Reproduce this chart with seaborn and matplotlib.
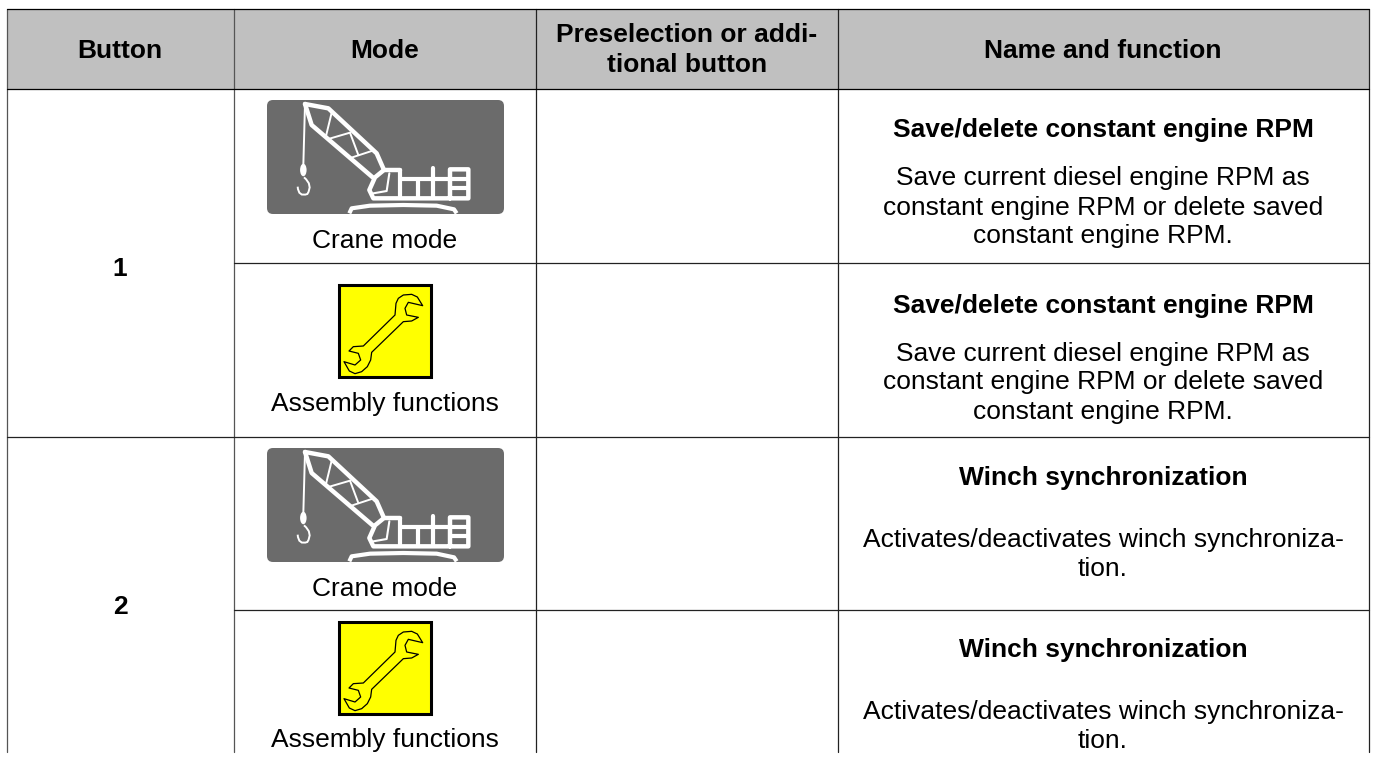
import matplotlib
matplotlib.use("Agg")
import matplotlib.pyplot as plt
import seaborn as sns
from matplotlib.patches import FancyBboxPatch, Polygon, Rectangle, Ellipse, PathPatch
from matplotlib.path import Path

headers = ["Button", "Mode", "Preselection or addi-\ntional button", "Name and function"]
header_x = [120, 385, 687, 1103]
header_y = [49, 49, 45, 49]
button_labels = ["1", "2"]
button_y = [267, 605]
modes = ["Crane mode", "Assembly functions", "Crane mode", "Assembly functions"]
mode_y = [238, 401, 586, 738]
titles = ["Save/delete constant engine RPM", "Save/delete constant engine RPM",
          "Winch synchronization", "Winch synchronization"]
title_y = [128, 303, 476, 648]
bodies = [["Save current diesel engine RPM as", "constant engine RPM or delete saved", "constant engine RPM."],
          ["Save current diesel engine RPM as", "constant engine RPM or delete saved", "constant engine RPM."],
          ["Activates/deactivates winch synchroniza-", "tion."],
          ["Activates/deactivates winch synchroniza-", "tion."]]
body_y = [[176, 205, 234], [351, 380, 409], [538, 567], [710, 739]]

col_x = [7, 234, 536, 838, 1369]
row_y = [9, 89, 263, 437, 610]
table_bottom = 752

sns.set_theme(style="white")
plt.rcParams["font.family"] = ["Liberation Sans", "DejaVu Sans"]

fig, ax = plt.subplots(figsize=(13.74, 7.58), dpi=100)
ax.set_position([0, 0, 1, 1])
ax.set_xlim(0, 1374)
ax.set_ylim(758, 0)
ax.axis("off")

FS = 19.0
LINE = "#222222"
ax.add_patch(Rectangle((col_x[0], row_y[0]), col_x[-1] - col_x[0], row_y[1] - row_y[0], fc="#c0c0c0", ec="none", zorder=0))
for x in col_x:
    ax.plot([x, x], [row_y[0], table_bottom], color="#555555" if x in (7, 234) else LINE, lw=0.9, zorder=1)
ax.plot([col_x[0], col_x[-1]], [row_y[0]] * 2, color="black", lw=0.9)
ax.plot([col_x[0], col_x[-1]], [row_y[1]] * 2, color="black", lw=0.9)
ax.plot([col_x[1], col_x[-1]], [row_y[2]] * 2, color=LINE, lw=0.9)
ax.plot([col_x[0], col_x[-1]], [row_y[3]] * 2, color=LINE, lw=0.9)
ax.plot([col_x[1], col_x[-1]], [row_y[4]] * 2, color=LINE, lw=0.9)


def crane_icon(dy):
    def T(pts):
        return [(p[0] / 3 + 230, p[1] / 3 + 90 + dy) for p in pts]
    ax.add_patch(FancyBboxPatch((270, 103 + dy), 231, 108, boxstyle="round,pad=3,rounding_size=6",
                                fc="#6b6b6b", ec="none", zorder=2))
    strokes = [
        ([(225, 42), (295, 55), (440, 190), (462, 240)], 3.2),
        ([(225, 42), (245, 105), (428, 262)], 3.2),
        ([(305, 68), (288, 138)], 1.4),
        ([(295, 147), (360, 128)], 1.4),
        ([(360, 128), (385, 195)], 1.4),
        ([(358, 205), (425, 183)], 1.4),
        ([(225, 42), (220, 225)], 1.4),
        ([(510, 240), (462, 240), (435, 262), (418, 300), (430, 325), (715, 325), (715, 238), (660, 238), (660, 325)], 3.2),
        ([(510, 240), (510, 325)], 3.0),
        ([(510, 268), (660, 268)], 3.0),
        ([(565, 268), (565, 325)], 3.0),
        ([(610, 235), (610, 325)], 3.0),
        ([(660, 268), (715, 268)], 3.0),
        ([(660, 295), (715, 295)], 3.0),
        ([(478, 250), (470, 303), (430, 310)], 1.5),
    ]
    for pts, lw in strokes:
        xs, ys = zip(*T(pts))
        ax.plot(xs, ys, color="white", lw=lw, solid_joinstyle="round", solid_capstyle="round", zorder=3)
    hook = T([(222, 262), (250, 285), (232, 312), (205, 322), (203, 290)])
    ax.add_patch(PathPatch(Path(hook, [Path.MOVETO, Path.CURVE3, Path.CURVE3, Path.CURVE3, Path.CURVE3]),
                           fc="none", ec="white", lw=1.4, zorder=3))
    track = T([(358, 370), (365, 355), (420, 347), (520, 345), (620, 347), (672, 358), (680, 370)])
    xs, ys = zip(*track)
    ax.plot(xs, ys, color="white", lw=3.0, solid_joinstyle="round", solid_capstyle="butt", zorder=3)
    ax.add_patch(Ellipse((220 / 3 + 230, 240 / 3 + 90 + dy), 6.5, 12.5, fc="white", ec="none", zorder=3))


WRENCH = [(578, 122), (535, 112), (525, 130), (530, 150), (565, 157), (545, 168), (520, 170), (425, 262),
          (422, 285), (412, 305), (395, 320), (375, 326), (358, 318), (342, 290), (375, 300), (392, 285), (385, 265),
          (357, 258), (370, 245), (400, 243), (495, 150), (498, 115), (505, 100), (520, 90), (545, 88), (562, 96)]


def wrench_icon(dy):
    ax.add_patch(Rectangle((339, 285 + dy), 92, 92, fc="#ffff00", ec="black", lw=2.2, zorder=2))
    pts = [(p[0] / 3 + 230, p[1] / 3 + 265 + dy) for p in WRENCH]
    ax.add_patch(Polygon(pts, closed=True, fc="#ffff00", ec="black", lw=0.9, joinstyle="round", zorder=3))


crane_icon(0)
crane_icon(348)
wrench_icon(0)
wrench_icon(337)

TEXT = dict(ha="center", va="center_baseline", fontsize=FS, color="black")
for label, x, y in zip(headers, header_x, header_y):
    ax.text(x, y, label, fontweight="bold", linespacing=1.28, **TEXT)
for label, y in zip(button_labels, button_y):
    ax.text(120, y, label, fontweight="bold", **TEXT)
for label, y in zip(modes, mode_y):
    ax.text(385, y, label, **TEXT)
for label, y in zip(titles, title_y):
    ax.text(1103, y, label, fontweight="bold", **TEXT)
for lines, ys in zip(bodies, body_y):
    for line, y in zip(lines, ys):
        ax.text(1103, y, line, **TEXT)

fig.savefig("out.png", dpi=100, facecolor="white")
